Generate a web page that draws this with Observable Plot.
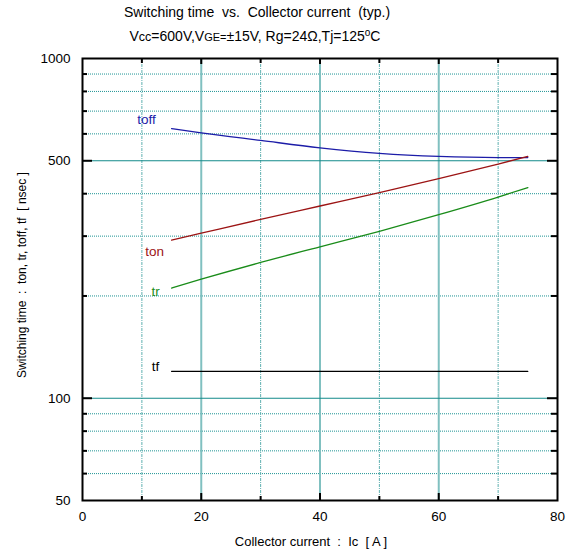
<!DOCTYPE html>
<html><head><meta charset="utf-8">
<script src="https://cdn.jsdelivr.net/npm/d3@7"></script>
<script src="https://cdn.jsdelivr.net/npm/@observablehq/plot@0.6"></script>
<style>html,body{margin:0;padding:0;background:#fff} svg{display:block} svg text{white-space:pre}</style>
</head><body><div id="chart"></div>
<script>
// ---- data ----
const current = [15, 20, 30, 40, 50, 60, 70, 75];
const toff = [622, 604, 574, 546, 526, 515, 511, 511];
const ton  = [292, 306, 336, 368, 403, 443, 489, 515];
const tr   = [211, 224, 251, 279, 310, 347, 391, 417];
const tf   = [120, 120, 120, 120, 120, 120, 120, 120];
const seriesNames = ["toff", "ton", "tr", "tf"];
const xTickLabels = [0, 20, 40, 60, 80];
const yTickLabels = [50, 100, 500, 1000];
const xMajorGrid = [20, 40, 60];
const xMinorGrid = [10, 30, 50, 70];
const yMajorGrid = [100, 500];
const yMinorGrid = [60, 70, 80, 90, 200, 300, 400, 600, 700, 800, 900];
const titleLine1 = "Switching time  vs.  Collector current  (typ.)";
const titleLine2 = "Vcc=600V,VGE=±15V, Rg=24Ω,Tj=125°C";
const xLabel = "Collector current  :  Ic  [ A ]";
const yLabel = "Switching time  :  ton, tr, toff, tf  [ nsec ]";

// ---- styles ----
const seriesColors = ["#1c1ca8", "#9c1414", "#1a8c1a", "#000000"];
const labelOffsets = {toff: [-25, -9], ton: [-17, 12], tr: [-16, 4], tf: [-16, -5]};

const values = {toff, ton, tr, tf};
const rows = seriesNames.flatMap(s => current.map((c, i) => ({series: s, x: c, y: values[s][i]})));

const W = 574, H = 556, mL = 82, mR = 17, mT = 58, mB = 56;
const fw = W - mL - mR, fh = H - mT - mB;
const font = "'Liberation Sans', Arial, sans-serif";

const svg = Plot.plot({
  width: W, height: H,
  marginLeft: mL, marginRight: mR, marginTop: mT, marginBottom: mB,
  style: {fontFamily: font, fontSize: "13px", background: "#fff", color: "#000"},
  x: {domain: [0, 80], label: null},
  y: {type: "log", domain: [50, 1000], label: null},
  color: {domain: seriesNames, range: seriesColors},
  marks: [
    Plot.ruleY(yMinorGrid, {stroke: "#1f9494", strokeDasharray: "1,1"}),
    Plot.ruleX(xMinorGrid, {stroke: "#5fb0b0", strokeDasharray: "3,1,1,1"}),
    Plot.ruleX(xMajorGrid, {stroke: "#80c0c0", strokeWidth: 2}),
    Plot.ruleY(yMajorGrid, {stroke: "#128a8a", strokeWidth: 1.2}),
    // inward ticks
    Plot.tickY(yMinorGrid, {insetRight: fw - 5, strokeWidth: 2}),
    Plot.tickY(yMajorGrid, {insetRight: fw - 10, strokeWidth: 2}),
    Plot.tickY(yMinorGrid, {insetLeft: fw - 6, strokeWidth: 2}),
    Plot.tickY(yMajorGrid, {insetLeft: fw - 10, strokeWidth: 2}),
    Plot.tickX(xMinorGrid, {insetTop: fh - 4, strokeWidth: 2}),
    Plot.tickX(xMajorGrid, {insetTop: fh - 7, strokeWidth: 2}),
    Plot.tickX(xMinorGrid, {insetBottom: fh - 5, strokeWidth: 2}),
    Plot.tickX(xMajorGrid, {insetBottom: fh - 6, strokeWidth: 2}),
    Plot.frame({stroke: "#000", strokeWidth: 2}),
    Plot.axisY(yTickLabels, {tickSize: 0, tickPadding: 12, tickFormat: d => `${d}`, fontSize: 13.5, label: null}),
    Plot.axisX(xTickLabels, {tickSize: 0, tickPadding: 11, tickFormat: d => `${d}`, fontSize: 13.5, label: null}),
    Plot.line(rows, {x: "x", y: "y", z: "series", stroke: "series", strokeWidth: 1.3, curve: "monotone-x"}),
    ...seriesNames.map((s, i) => Plot.text([s], {
      x: () => current[0], y: () => values[s][0], text: d => d,
      fill: seriesColors[i], fontSize: 13.5,
      dx: labelOffsets[s][0], dy: labelOffsets[s][1]
    })),
    Plot.text([titleLine1], {frameAnchor: "top", dx: -63, dy: -45.5, fontSize: 14, lineAnchor: "middle"}),
    Plot.text([titleLine2], {frameAnchor: "top", dx: -65, dy: -22, fontSize: 14, lineAnchor: "middle"}),
    Plot.text([xLabel], {frameAnchor: "bottom", dx: -9, dy: 41, fontSize: 13, lineAnchor: "middle", textAnchor: "middle"}),
    Plot.text([yLabel], {frameAnchor: "left", dx: -60, dy: -4.5, fontSize: 12, rotate: -90, lineAnchor: "middle", textAnchor: "middle"})
  ]
});
document.getElementById("chart").appendChild(svg);

// rich formatting of the condition line (sub-size letters, superscript degree)
d3.select(svg).selectAll("text").filter(function() { return this.textContent === titleLine2; }).each(function() {
  const t = d3.select(this);
  t.text(null);
  const parts = [["V", null], ["cc", "12.5px"], ["=600V,V", null], ["GE=", "11px"], ["±15V, Rg=24Ω,Tj=125", null]];
  parts.forEach(([s, fs]) => { const sp = t.append("tspan").text(s); if (fs) sp.attr("font-size", fs); });
  t.append("tspan").text("o").attr("font-size", "10px").attr("dy", "-5");
  t.append("tspan").text("C").attr("dy", "5");
});
</script>
</body></html>
